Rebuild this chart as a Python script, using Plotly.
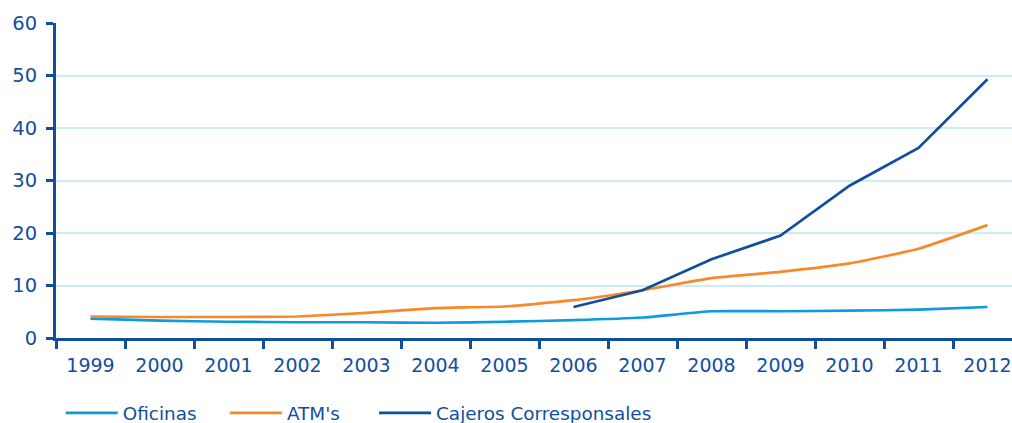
import plotly.graph_objects as go

years = [str(y) for y in range(1999, 2013)]
oficinas = [3.7, 3.3, 3.1, 3.0, 3.0, 2.9, 3.1, 3.4, 3.9, 5.1, 5.1, 5.2, 5.4, 5.9]
atms = [4.1, 4.0, 4.0, 4.1, 4.8, 5.7, 6.0, 7.2, 9.1, 11.4, 12.6, 14.2, 17.0, 21.5]
cajeros_years = [str(y) for y in range(2006, 2013)]
cajeros = [5.9, 9.1, 15.0, 19.5, 29.0, 36.2, 49.3]
y_ticks = [0, 10, 20, 30, 40, 50, 60]

DARK = "#114f9e"
FONT = "DejaVu Sans, Verdana, sans-serif"
PAD = "\u00a0"

fig = go.Figure()
fig.add_trace(go.Scatter(x=years, y=oficinas, name="Oficinas" + PAD * 4, mode="lines",
                         line=dict(color="#0d9be0", width=2.7, shape="spline", smoothing=0.4)))
fig.add_trace(go.Scatter(x=years, y=atms, name="ATM's" + PAD * 5, mode="lines",
                         line=dict(color="#f7892b", width=2.7, shape="spline", smoothing=0.4)))
fig.add_trace(go.Scatter(x=cajeros_years, y=cajeros, name="Cajeros Corresponsales", mode="lines",
                         line=dict(color=DARK, width=2.7)))

fig.update_layout(
    width=1012, height=423,
    margin=dict(l=56, r=0, t=23, b=85),
    plot_bgcolor="white", paper_bgcolor="white",
    font=dict(family=FONT, size=19, color=DARK),
    showlegend=True,
    legend=dict(orientation="h", xref="container", yref="container",
                x=0.06, y=0.024, xanchor="left", yanchor="middle",
                font=dict(size=18.4, color=DARK), itemwidth=52,
                bgcolor="rgba(0,0,0,0)"),
    xaxis=dict(type="category", categoryorder="array", categoryarray=years,
               range=[-0.5, -0.5 + 956 / 69], showgrid=False,
               showline=True, linecolor=DARK, linewidth=3,
               ticks="outside", tickson="boundaries", ticklen=8, tickwidth=2.5, tickcolor=DARK,
               tickfont=dict(size=19, color=DARK), ticklabelstandoff=8, zeroline=False),
    yaxis=dict(range=[0, 60], tickvals=y_ticks, showgrid=True, gridcolor="#cfeaf7", gridwidth=1.5,
               showline=True, linecolor=DARK, linewidth=3,
               ticks="outside", ticklen=7, tickwidth=2.5, tickcolor=DARK,
               tickfont=dict(size=19.5, color=DARK), ticklabelstandoff=5, zeroline=False),
)

fig.write_html("out.html")
